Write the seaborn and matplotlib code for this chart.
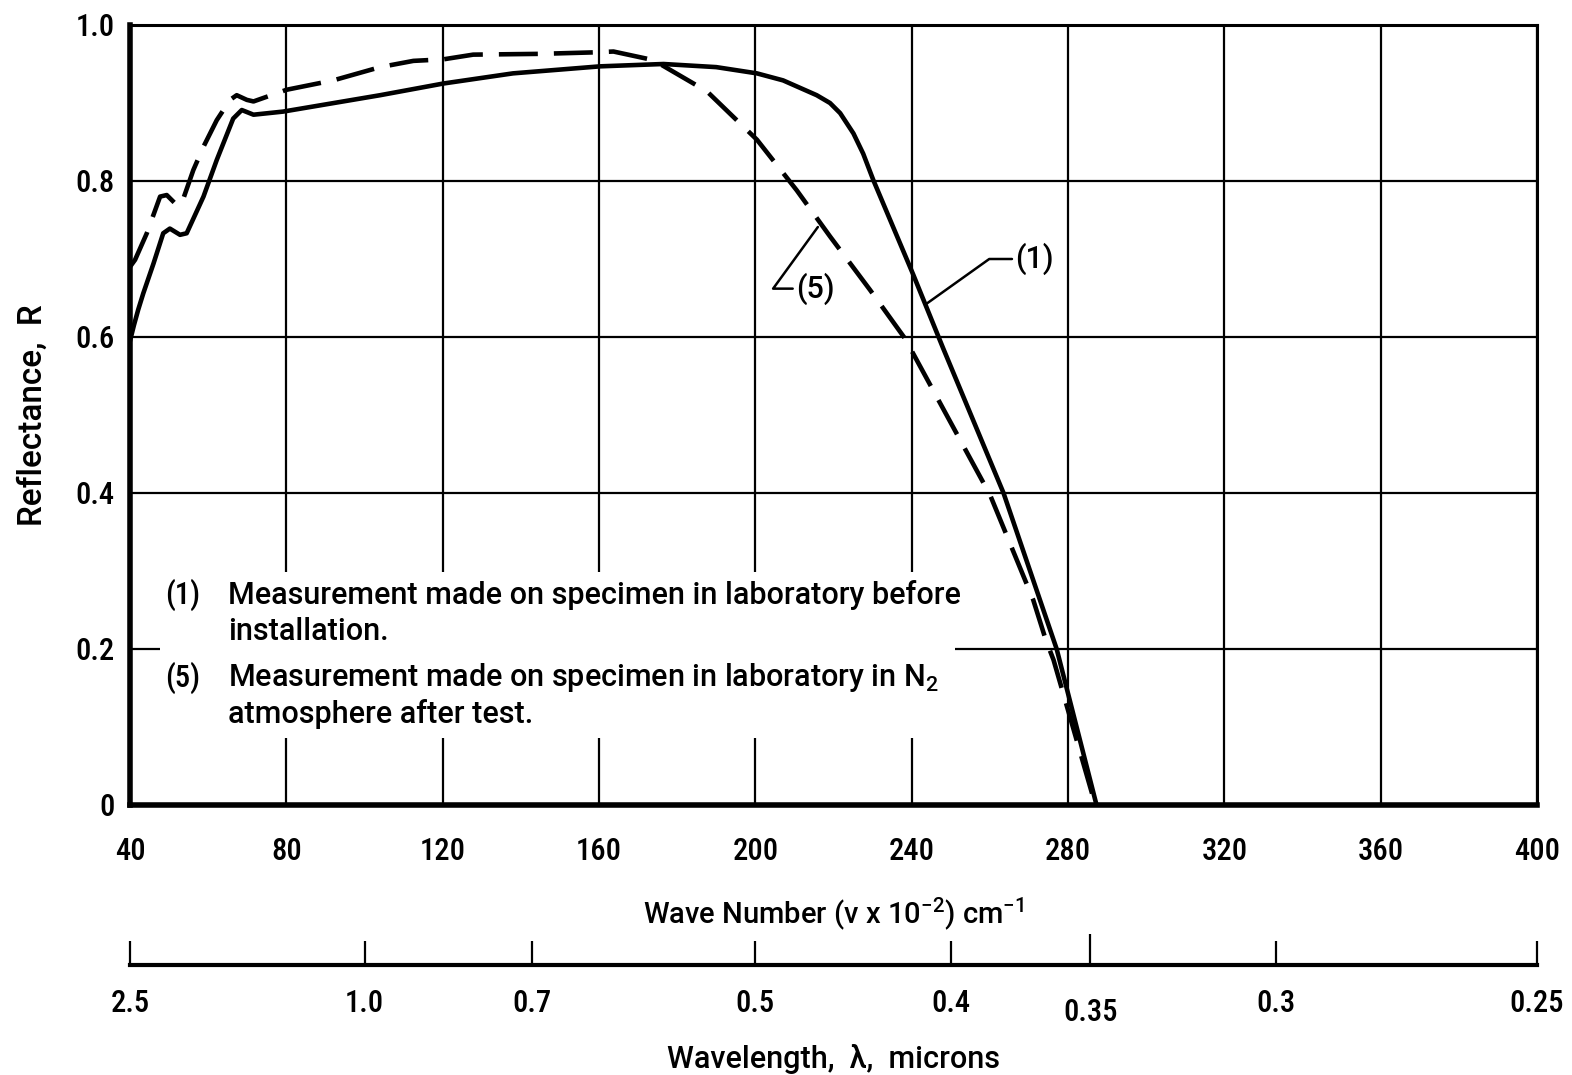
import numpy as np
import pandas as pd
import matplotlib
matplotlib.use("Agg")
import matplotlib.pyplot as plt
import seaborn as sns
from matplotlib.patches import Rectangle

# ---------------- data ----------------
wn_curve1 = [40, 41.0, 42.1, 43.4, 46.0, 48.5, 50.2, 52.8, 54.5, 58.8, 62.2, 66.4,
             68.6, 71.6, 79.2, 104, 120.2, 138, 160.3, 176.5, 190, 200.4, 207.1,
             215.7, 219.1, 221.7, 225.1, 227.6, 230.2, 240.4, 248.1, 263.5, 277.1, 287.3]
r_curve1 = [0.595, 0.615, 0.635, 0.656, 0.694, 0.733, 0.739, 0.731, 0.733, 0.780, 0.827, 0.880,
            0.891, 0.885, 0.889, 0.910, 0.925, 0.938, 0.947, 0.950, 0.946, 0.938, 0.929,
            0.910, 0.900, 0.887, 0.861, 0.835, 0.801, 0.680, 0.585, 0.400, 0.200, 0.0]

wn_curve5 = [40, 41.3, 44.3, 47.7, 49.4, 52.0, 53.2, 56.2, 58.8, 62.2, 65.6, 67.3,
             69.9, 71.6, 80.1, 92.0, 104, 112.5, 120.2, 127.8, 144.9, 159.4, 163.7,
             173.9, 187.6, 200.4, 210.6, 219.1, 229.4, 238.3, 260.1, 271.1, 274.3,
             276.3, 287.0]
r_curve5 = [0.690, 0.699, 0.733, 0.780, 0.782, 0.769, 0.771, 0.814, 0.844, 0.878, 0.904, 0.910,
            0.904, 0.902, 0.917, 0.929, 0.946, 0.954, 0.956, 0.962, 0.963, 0.965, 0.966,
            0.955, 0.915, 0.853, 0.788, 0.729, 0.660, 0.598, 0.397, 0.263, 0.212,
            0.186, 0.0]

x_ticks = [40, 80, 120, 160, 200, 240, 280, 320, 360, 400]
y_ticks = [0, 0.2, 0.4, 0.6, 0.8, 1.0]
y_tick_labels = ["0", "0.2", "0.4", "0.6", "0.8", "1.0"]
wl_ticks = [2.5, 1.0, 0.7, 0.5, 0.4, 0.3, 0.25]
wl_tick_labels = ["2.5", "1.0", "0.7", "0.5", "0.4", "0.3", "0.25"]
wl_minor_ticks = [0.35]
wl_minor_labels = ["0.35"]

note_keys = ["(1)", "(5)"]
note_texts = ["Measurement made on specimen in laboratory before\ninstallation.",
              "Measurement made on specimen in laboratory in N$_2$\natmosphere after test."]

# curve callouts: (point on curve), (label position), leader angle
callout_labels = ["(1)", "(5)"]
callout_xy = [(243.9, 0.643), (216.0, 0.741)]
callout_text_xy = [(266.5, 0.700), (210.4, 0.662)]
callout_angle = [35.5, 54.0]

# ---------------- style ----------------
sns.set_theme(style="white")
FONT_NUM = ["Roboto Condensed", "Roboto", "DejaVu Sans"]
FONT_TXT = ["Roboto", "DejaVu Sans"]
plt.rcParams["font.family"] = FONT_NUM
plt.rcParams["font.weight"] = "medium"
plt.rcParams["axes.labelweight"] = "medium"
plt.rcParams["mathtext.fontset"] = "custom"
plt.rcParams["mathtext.rm"] = "Roboto:medium"
plt.rcParams["mathtext.it"] = "Roboto:medium"
plt.rcParams["mathtext.bf"] = "Roboto:bold"
FS = 22

fig = plt.figure(figsize=(15.72, 10.75), dpi=100)
ax = fig.add_axes([130 / 1572, 1 - 805 / 1075, 1407 / 1572, 780 / 1075])

df1 = pd.DataFrame({"wn": wn_curve1, "R": r_curve1})
df5 = pd.DataFrame({"wn": wn_curve5, "R": r_curve5})
sns.lineplot(data=df1, x="wn", y="R", ax=ax, color="black", lw=3.3,
             sort=False, estimator=None, zorder=3)
sns.lineplot(data=df5, x="wn", y="R", ax=ax, color="black", lw=3.3,
             sort=False, estimator=None, linestyle=(0, (8.5, 3.5)), zorder=3)

ax.set_xlim(40, 400)
ax.set_ylim(0, 1.0)
ax.set_xticks(x_ticks)
ax.set_xticklabels([str(t) for t in x_ticks])
ax.set_yticks(y_ticks)
ax.set_yticklabels(y_tick_labels)
ax.set_axisbelow(True)
ax.grid(True, color="black", lw=1.6)
ax.tick_params(axis="x", length=0, labelsize=FS, pad=23, colors="black")
ax.tick_params(axis="y", length=0, labelsize=FS, pad=11, colors="black")
for side, lw in [("left", 4.0), ("bottom", 4.0), ("top", 2.2), ("right", 2.2)]:
    ax.spines[side].set_visible(True)
    ax.spines[side].set_color("black")
    ax.spines[side].set_linewidth(lw)

ax.set_xlabel("Wave Number (\u03bd x 10$^{-2}$) cm$^{-1}$", fontsize=21, color="black",
              family=FONT_TXT, fontweight="medium")
ax.xaxis.set_label_coords(0.5, -0.116)
ax.set_ylabel("Reflectance,  R", fontsize=24, color="black", family=FONT_TXT,
              fontweight="medium")
ax.yaxis.set_label_coords(-0.058, 0.5)

# white block behind the notes (interrupts grid)
ax.add_patch(Rectangle((0.0213, 0.086), 0.5650, 0.2127, transform=ax.transAxes,
                       facecolor="white", edgecolor="none", zorder=1.5))
key_x, body_x = 0.0249, 0.0697
line_y = [(0.269, 0.222), (0.163, 0.117)]
for key, body, (y1, y2) in zip(note_keys, note_texts, line_y):
    first, second = body.split("\n")
    ax.text(key_x, y1, key, transform=ax.transAxes, fontsize=FS, va="center",
            ha="left", color="black", zorder=4, family=FONT_NUM)
    ax.text(body_x, y1, first, transform=ax.transAxes, fontsize=FS, va="center",
            ha="left", color="black", zorder=4, family=FONT_TXT)
    ax.text(body_x, y2, second, transform=ax.transAxes, fontsize=FS, va="center",
            ha="left", color="black", zorder=4, family=FONT_TXT)

for lab, xy, txy, ang in zip(callout_labels, callout_xy, callout_text_xy, callout_angle):
    ax.annotate(lab, xy=xy, xytext=txy, fontsize=FS, ha="left", va="center",
                color="black", zorder=4, family=FONT_TXT,
                arrowprops=dict(arrowstyle="-", color="black", lw=1.8,
                                shrinkA=0, shrinkB=0, relpos=(0, 0.5),
                                connectionstyle=f"angle,angleA=0,angleB={ang},rad=0"))

# secondary wavelength axis (lambda = 100 / wave number in 10^2 cm^-1)
def to_wl(v):
    v = np.asarray(v, dtype=float)
    with np.errstate(divide="ignore"):
        return 100.0 / v

sec = ax.secondary_xaxis(-(965 - 805) / 780, functions=(to_wl, to_wl))
sec.set_xticks(wl_ticks)
sec.set_xticklabels(wl_tick_labels)
sec.set_xticks(wl_minor_ticks, minor=True)
sec.set_xticklabels(wl_minor_labels, minor=True)
sec.tick_params(which="major", direction="in", length=17, width=1.6, labelsize=FS,
                pad=17, colors="black")
sec.tick_params(which="minor", direction="in", length=22, width=1.6, labelsize=FS,
                pad=24, colors="black")
sec.spines["bottom"].set_linewidth(3.0)
sec.spines["bottom"].set_color("black")
sec.set_xlabel("Wavelength,  \u03bb,  microns", fontsize=22, color="black",
               family=FONT_TXT, fontweight="medium", labelpad=12)

fig.savefig("out.png", dpi=100, facecolor="white")
